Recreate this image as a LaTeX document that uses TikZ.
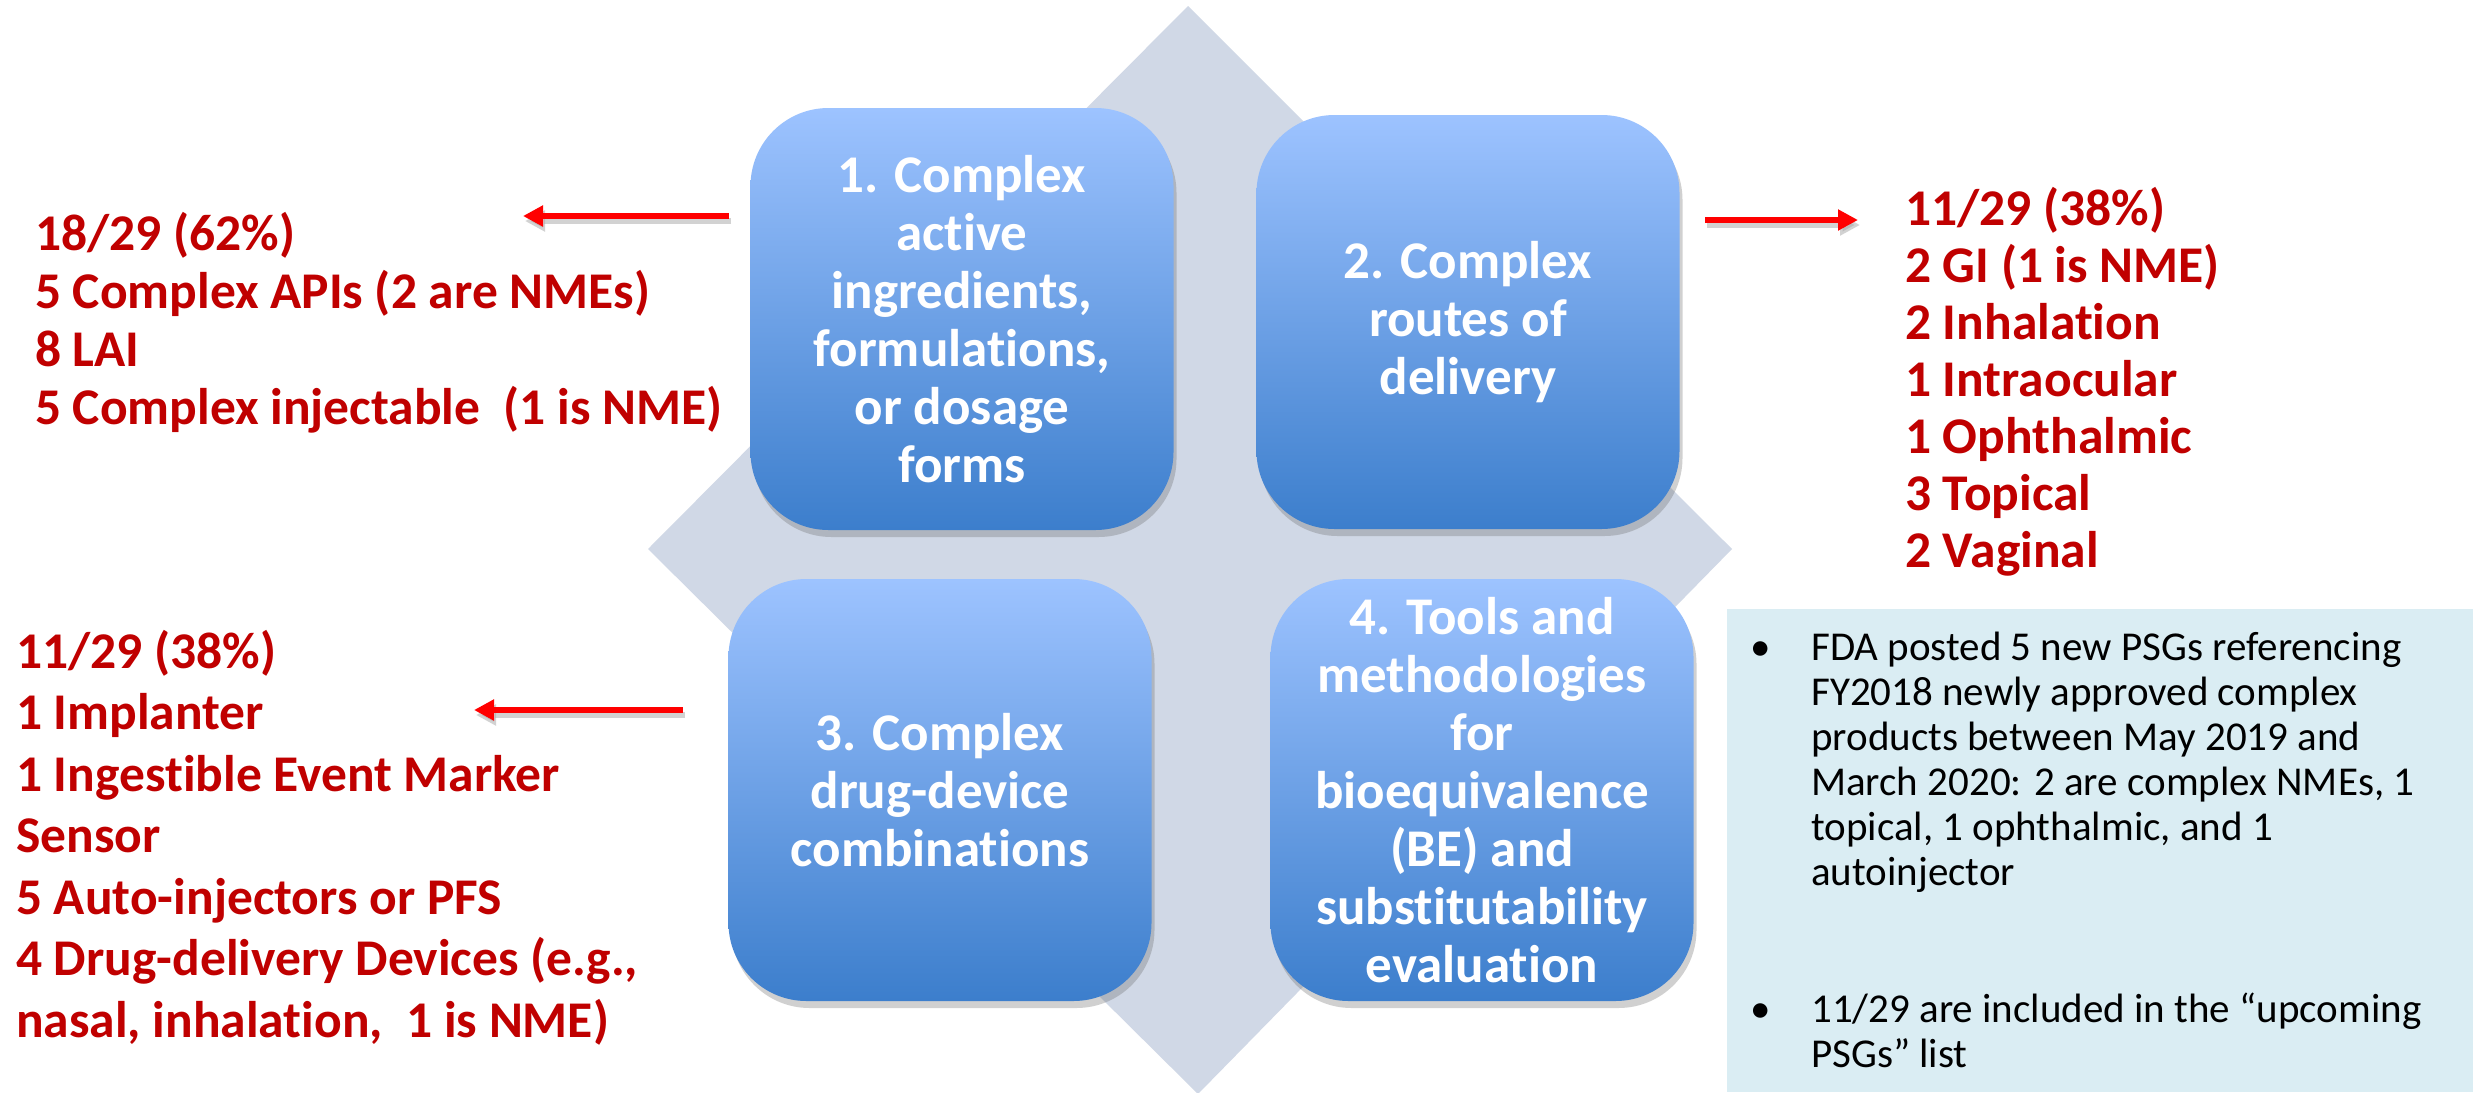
\documentclass[tikz,border=0pt]{standalone}
\usepackage{fontspec}
\setmainfont[Ligatures=NoCommon]{Carlito}
\usetikzlibrary{shadows,arrows.meta}
\definecolor{diam}{RGB}{208,216,230}
\definecolor{btop}{RGB}{157,195,255}
\definecolor{bbot}{RGB}{60,126,204}
\definecolor{dred}{RGB}{192,0,0}
\definecolor{note}{RGB}{218,237,243}
\tikzset{
  catbox/.style={rounded corners=78pt, top color=btop, bottom color=bbot,
    minimum width=423pt, minimum height=422pt, inner sep=0pt, align=center,
    text=white, font=\fontsize{53}{58}\selectfont\bfseries,
    drop shadow={shadow xshift=3pt, shadow yshift=-7pt, opacity=0.3, fill=black!60}},
  rl/.style={anchor=base west, inner sep=0pt, text=dred, font=\fontsize{51.5}{58}\selectfont\bfseries},
  redarrow/.style={draw=red, line width=6pt, -{Triangle[length=20pt,width=20pt]}},
  arrowshadow/.style={draw=black!35, line width=6pt, -{Triangle[length=20pt,width=20pt]}, opacity=0.5},
  nt/.style={anchor=base west, inner sep=0pt, text=black, font=\fontsize{41}{45}\selectfont},
  bullet/.style={anchor=base west, inner sep=0pt, text=black, font=\fontsize{41}{45}\selectfont}
}
\begin{document}
\begin{tikzpicture}[x=1pt,y=-1pt]
\useasboundingbox (0,0) rectangle (2473,1092);
\fill[white] (0,0) rectangle (2473,1092);
% diamond
\coordinate (dT) at (1188,6);
\coordinate (dL) at (648,549);
\coordinate (dB) at (1198,1094);
\coordinate (dR) at (1732,549);
\fill[diam] (dT) -- (dR) -- (dB) -- (dL) -- cycle;
% note box
\fill[note] (1727,609) rectangle (2473,1092);
% boxes
\node[catbox] (b1) at (962,319) {1. Complex\\active\\ingredients,\\formulations,\\or dosage\\forms};
\node[catbox, minimum height=414pt] (b2) at (1468,322) {2. Complex\\routes of\\delivery};
\node[catbox] (b3) at (940,790) {3. Complex\\drug-device\\combinations};
\node[catbox] (b4) at (1482,790) {4. Tools and\\methodologies\\for\\bioequivalence\\(BE) and\\substitutability\\evaluation};
% red list, top left
\node[rl] (la1) at (35,250) {18/29 (62\%)};
\node[rl] (la2) at (35,308) {5 Complex APIs (2 are NMEs)};
\node[rl] (la3) at (35,366) {8 LAI};
\node[rl] (la4) at (35,424) {5 Complex injectable\ \ (1 is NME)};
% red list, right
\node[rl] (lb1) at (1905,225) {11/29 (38\%)};
\node[rl] (lb2) at (1905,282) {2 GI (1 is NME)};
\node[rl] (lb3) at (1905,339) {2 Inhalation};
\node[rl] (lb4) at (1905,396) {1 Intraocular};
\node[rl] (lb5) at (1905,453) {1 Ophthalmic};
\node[rl] (lb6) at (1905,510) {3 Topical};
\node[rl] (lb7) at (1905,567) {2 Vaginal};
% red list, bottom left
\node[rl] (lc1) at (16,668) {11/29 (38\%)};
\node[rl] (lc2) at (16,729) {1 Implanter};
\node[rl] (lc3) at (16,791) {1 Ingestible Event Marker};
\node[rl] (lc4) at (16,852) {Sensor};
\node[rl] (lc5) at (16,914) {5 Auto-injectors or PFS};
\node[rl] (lc6) at (16,975) {4 Drug-delivery Devices (e.g.,};
\node[rl] (lc7) at (16,1037) {nasal, inhalation,\ \ 1 is NME)};
% arrows
\coordinate (a1s) at (729,216);
\coordinate (a1e) at (523,216);
\coordinate (a2s) at (1705,220);
\coordinate (a2e) at (1858,220);
\coordinate (a3s) at (683,710);
\coordinate (a3e) at (474,710);
\draw[arrowshadow] ([shift={(2,5)}]a1s) -- ([shift={(2,5)}]a1e);
\draw[arrowshadow] ([shift={(2,5)}]a2s) -- ([shift={(2,5)}]a2e);
\draw[arrowshadow] ([shift={(2,5)}]a3s) -- ([shift={(2,5)}]a3e);
\draw[redarrow] (a1s) -- (a1e);
\draw[redarrow] (a2s) -- (a2e);
\draw[redarrow] (a3s) -- (a3e);
% note text
\node[bullet] (n1b) at (1750,660) {•};
\node[nt] (n11) at (1811,660) {FDA posted 5 new PSGs referencing};
\node[nt] (n12) at (1811,705) {FY2018 newly approved complex};
\node[nt] (n13) at (1811,750) {products between May 2019 and};
\node[nt] (n14) at (1811,795) {March 2020: 2 are complex NMEs, 1};
\node[nt] (n15) at (1811,840) {topical, 1 ophthalmic, and 1};
\node[nt] (n16) at (1811,885) {autoinjector};
\node[bullet] (n2b) at (1750,1022) {•};
\node[nt] (n21) at (1811,1022) {11/29 are included in the “upcoming};
\node[nt] (n22) at (1811,1067) {PSGs” list};
\end{tikzpicture}
\end{document}
